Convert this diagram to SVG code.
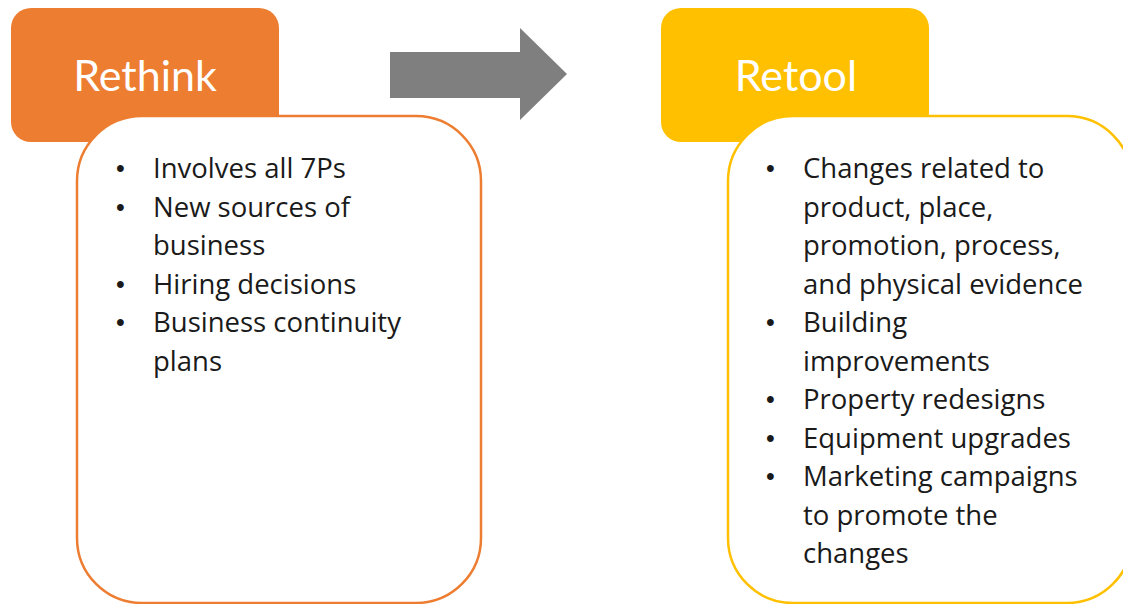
<svg xmlns="http://www.w3.org/2000/svg" width="1123" height="604" viewBox="0 0 1123 604">
<style>
.title{font-family:Lato,"Liberation Sans",sans-serif;font-size:43px;fill:#fff}
.item{font-family:"Open Sans","Liberation Sans",sans-serif;font-size:27.5px;fill:#1a1a1a}
.bul{font-family:"Liberation Sans",sans-serif;font-size:25px;fill:#1a1a1a}
</style>
<rect width="1123" height="604" fill="#fff"/>
<g id="connectors">
<path d="M390,52 H520 V28 L567,74 L520,120 V98 H390 Z" fill="#7f7f7f"/>
</g>
<g id="rethink">
<rect x="11" y="8" width="268" height="134" rx="20" fill="#ED7D31"/>
<text class="title" x="145" y="91" text-anchor="middle">Rethink</text>
</g>
<g id="rethink-list">
<rect x="77" y="116" width="404" height="487" rx="65" fill="#fff" stroke="#ED7D31" stroke-width="2.5"/>
<g class="bul"><text x="116" y="177">•</text><text x="116" y="215.5">•</text><text x="116" y="292.5">•</text><text x="116" y="331">•</text></g>
<g class="item">
<text x="153" y="178">Involves all 7Ps</text>
<text x="153" y="216.5">New sources of</text>
<text x="153" y="255">business</text>
<text x="153" y="293.5">Hiring decisions</text>
<text x="153" y="332">Business continuity</text>
<text x="153" y="370.5">plans</text>
</g>
</g>
<g id="retool">
<rect x="661" y="8" width="268" height="134" rx="20" fill="#FFC000"/>
<text class="title" x="796" y="91" text-anchor="middle">Retool</text>
</g>
<g id="retool-list">
<rect x="728" y="116" width="404" height="487" rx="65" fill="#fff" stroke="#FFC000" stroke-width="2.5"/>
<g class="bul"><text x="766" y="177">•</text><text x="766" y="331">•</text><text x="766" y="408">•</text><text x="766" y="446.5">•</text><text x="766" y="485">•</text></g>
<g class="item">
<text x="803" y="178">Changes related to</text>
<text x="803" y="216.5">product, place,</text>
<text x="803" y="255">promotion, process,</text>
<text x="803" y="293.5">and physical evidence</text>
<text x="803" y="332">Building</text>
<text x="803" y="370.5">improvements</text>
<text x="803" y="409">Property redesigns</text>
<text x="803" y="447.5">Equipment upgrades</text>
<text x="803" y="486">Marketing campaigns</text>
<text x="803" y="524.5">to promote the</text>
<text x="803" y="563">changes</text>
</g>
</g>
</svg>
